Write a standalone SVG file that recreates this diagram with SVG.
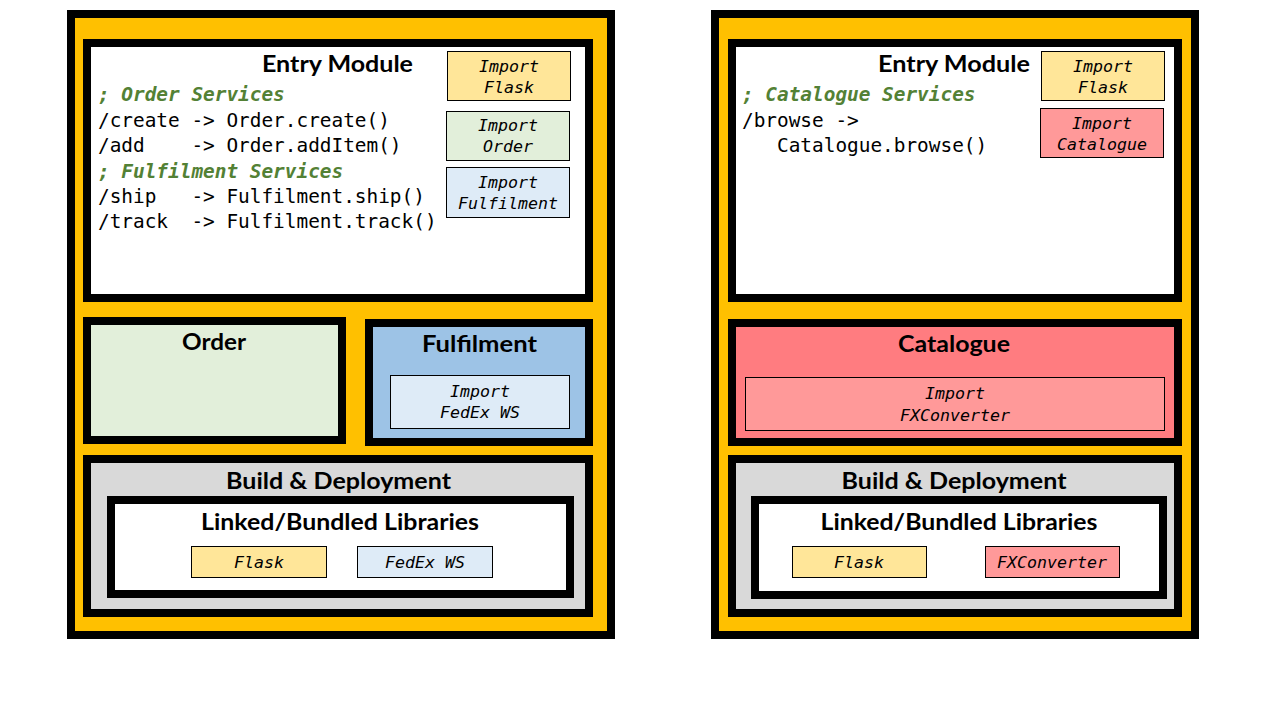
<svg xmlns="http://www.w3.org/2000/svg" width="1280" height="720" viewBox="0 0 1280 720">
<style>
.frame{fill:#FFC000;stroke:#000;stroke-width:8}
.box{stroke:#000;stroke-width:8}
.imp{stroke:#000;stroke-width:1}
.title{font-family:Lato,"Liberation Sans",sans-serif;font-weight:bold;font-size:23px;fill:#000;text-anchor:middle}
.code{font-family:"DejaVu Sans Mono","Liberation Mono",monospace;font-size:19.4px;fill:#000}
.cmt{font-family:"DejaVu Sans Mono","Liberation Mono",monospace;font-size:19.4px;fill:#538135;font-style:italic;font-weight:bold}
.it{font-family:"DejaVu Sans Mono","Liberation Mono",monospace;font-size:16.6px;font-style:italic;fill:#000;text-anchor:middle}
.white{fill:#fff}
.yel{fill:#FFE699}
.grn{fill:#E2EFDA}
.blu{fill:#9DC3E6}
.lblu{fill:#DEEBF7}
.red{fill:#FF7C80}
.pink{fill:#FF9999}
.gray{fill:#D9D9D9}
</style>
<rect width="1280" height="720" fill="#fff"/>

<g id="left-app">
<rect class="frame" x="71" y="14" width="540" height="621"/>
</g>

<g id="left-entry">
<rect class="box white" x="87" y="43" width="502" height="255"/>
<text class="title" x="337.5" y="72" textLength="151" lengthAdjust="spacingAndGlyphs">Entry Module</text>
<text class="cmt" x="98" y="101" xml:space="preserve">; Order Services</text>
<text class="code" x="98" y="127" xml:space="preserve">/create -&gt; Order.create()</text>
<text class="code" x="98" y="152" xml:space="preserve">/add    -&gt; Order.addItem()</text>
<text class="cmt" x="98" y="178" xml:space="preserve">; Fulfilment Services</text>
<text class="code" x="98" y="203" xml:space="preserve">/ship   -&gt; Fulfilment.ship()</text>
<text class="code" x="98" y="228" xml:space="preserve">/track  -&gt; Fulfilment.track()</text>
</g>
<g id="left-import-flask">
<rect class="imp yel" x="447.5" y="51.5" width="123" height="49"/>
<text class="it" x="509" y="72">Import</text>
<text class="it" x="509" y="93">Flask</text>
</g>
<g id="left-import-order">
<rect class="imp grn" x="446.5" y="111.5" width="123" height="49"/>
<text class="it" x="508" y="131">Import</text>
<text class="it" x="508" y="152">Order</text>
</g>
<g id="left-import-fulfilment">
<rect class="imp lblu" x="446.5" y="167.5" width="123" height="50"/>
<text class="it" x="508" y="188">Import</text>
<text class="it" x="508" y="209">Fulfilment</text>
</g>

<g id="order">
<rect class="box grn" x="87" y="321" width="255" height="119"/>
<text class="title" x="214" y="350" textLength="64" lengthAdjust="spacingAndGlyphs">Order</text>
</g>

<g id="fulfilment">
<rect class="box blu" x="369" y="323" width="220" height="119"/>
<text class="title" x="479.5" y="352" textLength="115" lengthAdjust="spacingAndGlyphs">Fulfilment</text>
<rect class="imp lblu" x="390.5" y="375.5" width="179" height="53"/>
<text class="it" x="480" y="397">Import</text>
<text class="it" x="480" y="418">FedEx WS</text>
</g>

<g id="left-build">
<rect class="box gray" x="87" y="459" width="502" height="154"/>
<text class="title" x="338.5" y="489" textLength="225" lengthAdjust="spacingAndGlyphs">Build &amp; Deployment</text>
</g>
<g id="left-libs">
<rect class="box white" x="111" y="500" width="459" height="94"/>
<text class="title" x="340" y="530" textLength="278" lengthAdjust="spacingAndGlyphs">Linked/Bundled Libraries</text>
<rect class="imp yel" x="191.5" y="546.5" width="135" height="31"/>
<text class="it" x="259" y="568">Flask</text>
<rect class="imp lblu" x="357.5" y="546.5" width="135" height="31"/>
<text class="it" x="425" y="568">FedEx WS</text>
</g>

<g id="right-app">
<rect class="frame" x="715" y="14" width="480" height="621"/>
</g>

<g id="right-entry">
<rect class="box white" x="732" y="43" width="446" height="255"/>
<text class="title" x="954" y="72" textLength="152" lengthAdjust="spacingAndGlyphs">Entry Module</text>
<text class="cmt" x="742" y="101" xml:space="preserve">; Catalogue Services</text>
<text class="code" x="742" y="127" xml:space="preserve">/browse -&gt;</text>
<text class="code" x="742" y="152" xml:space="preserve">   Catalogue.browse()</text>
</g>
<g id="right-import-flask">
<rect class="imp yel" x="1041.5" y="51.5" width="123" height="49"/>
<text class="it" x="1103" y="72">Import</text>
<text class="it" x="1103" y="93">Flask</text>
</g>
<g id="right-import-catalogue">
<rect class="imp pink" x="1040.5" y="108.5" width="123" height="49"/>
<text class="it" x="1102" y="129">Import</text>
<text class="it" x="1102" y="150">Catalogue</text>
</g>

<g id="catalogue">
<rect class="box red" x="732" y="323" width="446" height="119"/>
<text class="title" x="954" y="352" textLength="112" lengthAdjust="spacingAndGlyphs">Catalogue</text>
<rect class="imp pink" x="745.5" y="377.5" width="419" height="53"/>
<text class="it" x="955" y="399">Import</text>
<text class="it" x="955" y="421">FXConverter</text>
</g>

<g id="right-build">
<rect class="box gray" x="732" y="459" width="446" height="154"/>
<text class="title" x="954" y="489" textLength="225" lengthAdjust="spacingAndGlyphs">Build &amp; Deployment</text>
</g>
<g id="right-libs">
<rect class="box white" x="755" y="500" width="408" height="95"/>
<text class="title" x="959" y="530" textLength="277" lengthAdjust="spacingAndGlyphs">Linked/Bundled Libraries</text>
<rect class="imp yel" x="792.5" y="546.5" width="134" height="31"/>
<text class="it" x="859" y="568">Flask</text>
<rect class="imp pink" x="985.5" y="546.5" width="134" height="31"/>
<text class="it" x="1052" y="568">FXConverter</text>
</g>

<g id="connectors"></g>
</svg>
